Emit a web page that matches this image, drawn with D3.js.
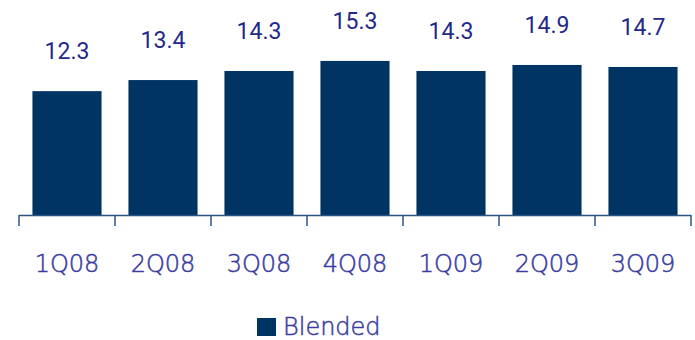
<!DOCTYPE html>
<html><head><meta charset="utf-8">
<script src="https://cdn.jsdelivr.net/npm/d3@7"></script>
<style>body{margin:0;background:#fff}svg{display:block}</style>
</head><body>
<svg id="c" width="695" height="340"></svg>
<script>
const categories = ["1Q08","2Q08","3Q08","4Q08","1Q09","2Q09","3Q09"];
const values = [12.3,13.4,14.3,15.3,14.3,14.9,14.7];
const seriesName = "Blended";

const svg = d3.select("#c");
const x = d3.scaleBand().domain(categories).range([19, 691]).paddingInner(0.28).paddingOuter(0.14);
const y = d3.scaleLinear().domain([0, 20]).range([215, 13.6]);
const barColor = "#003463";
const font = "'DejaVu Sans', sans-serif";
const labelColor = "#3a3ca0";

svg.append("g").selectAll("rect").data(values).join("rect")
  .attr("x", (d,i) => x(categories[i]))
  .attr("y", d => y(d))
  .attr("width", x.bandwidth())
  .attr("height", d => y(0) - y(d))
  .attr("fill", barColor);

// axis
const step = x.step();
const axisColor = "#2a5484";
svg.append("line").attr("x1", 19).attr("x2", 691).attr("y1", 215.5).attr("y2", 215.5)
  .attr("stroke", axisColor).attr("stroke-width", 1.5);
const tickXs = d3.range(categories.length + 1).map(i => i === categories.length ? x(categories[i-1]) - x.paddingInner()*step/2 + step : x(categories[i]) - x.paddingInner()*step/2);
svg.append("g").selectAll("line").data(tickXs).join("line")
  .attr("x1", d => d).attr("x2", d => d).attr("y1", 215).attr("y2", 226)
  .attr("stroke", axisColor).attr("stroke-width", 1.5);

// value labels
svg.append("g").selectAll("text").data(values).join("text")
  .attr("x", (d,i) => x(categories[i]) + x.bandwidth()/2)
  .attr("y", d => y(d) - 32)
  .attr("text-anchor", "middle")
  .attr("font-family", "Roboto, sans-serif").attr("font-size", 23)
  .attr("fill", "#23288a")
  .text(d => d.toFixed(1));

// category labels
svg.append("g").selectAll("text").data(categories).join("text")
  .attr("x", d => x(d) + x.bandwidth()/2)
  .attr("y", 272)
  .attr("text-anchor", "middle")
  .attr("font-family", font).attr("font-size", 24).attr("font-weight", 200)
  .attr("fill", labelColor).attr("stroke", labelColor).attr("stroke-width", 0.5)
  .text(d => d);

// legend
svg.append("rect").attr("x", 257).attr("y", 318).attr("width", 19).attr("height", 18).attr("fill", barColor);
svg.append("text").attr("x", 283).attr("y", 335)
  .attr("font-family", font).attr("font-size", 24).attr("font-weight", 200)
  .attr("fill", labelColor).attr("stroke", labelColor).attr("stroke-width", 0.5)
  .text(seriesName);
</script>
</body></html>
